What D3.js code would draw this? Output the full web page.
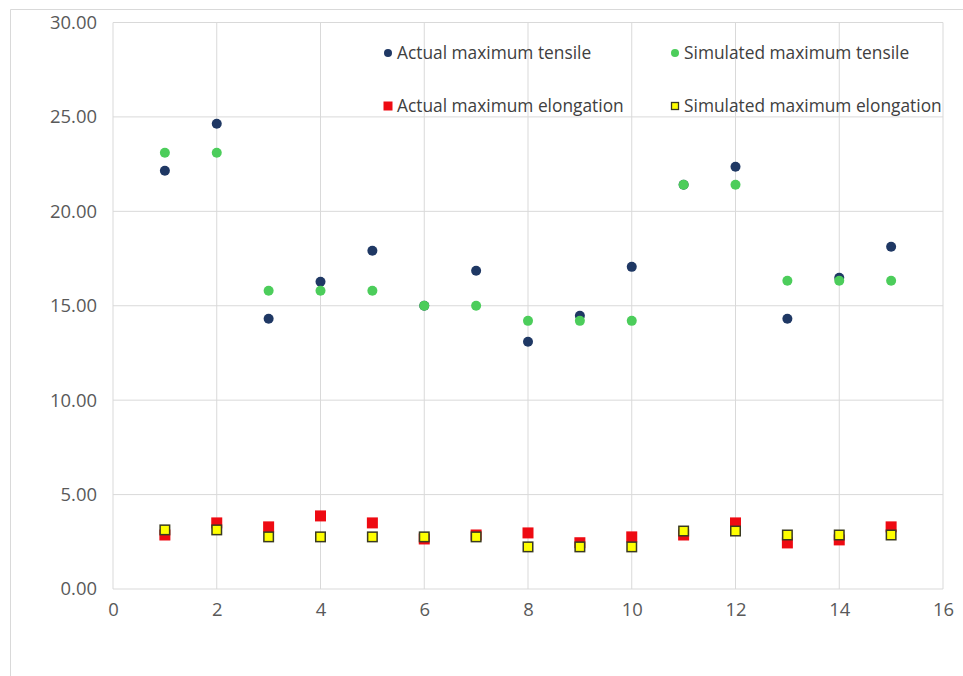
<!DOCTYPE html>
<html><head><meta charset="utf-8">
<script src="https://cdn.jsdelivr.net/npm/d3@7"></script>
<style>body{margin:0;background:#fff}svg{display:block}</style>
</head><body>
<svg id="c" width="963" height="676"></svg>
<script>
const samples = [1,2,3,4,5,6,7,8,9,10,11,12,13,14,15];
const actualTensile    = [22.15,24.64,14.31,16.27,17.91,15.0,16.85,13.09,14.47,17.06,21.41,22.36,14.31,16.48,18.12];
const simulatedTensile = [23.1,23.1,15.79,15.79,15.79,15.0,15.0,14.2,14.2,14.2,21.41,21.41,16.32,16.32,16.32];
const actualElong      = [2.86,3.5,3.29,3.87,3.5,2.65,2.86,2.97,2.45,2.76,2.86,3.5,2.44,2.6,3.29];
const simulatedElong   = [3.13,3.13,2.76,2.76,2.76,2.76,2.76,2.23,2.23,2.23,3.07,3.07,2.86,2.86,2.86];
const xTicks = [0,2,4,6,8,10,12,14,16];
const yTicks = [0,5,10,15,20,25,30];
const seriesNames = ["Actual maximum tensile","Simulated maximum tensile","Actual maximum elongation","Simulated maximum elongation"];

const svg = d3.select("#c");
const font = "'Open Sans', 'Noto Sans', sans-serif";
const L=113, R=943, T=22.5, B=589;
const x = d3.scaleLinear().domain([0,16]).range([L,R]);
const y = d3.scaleLinear().domain([0,30]).range([B,T]);

function fitSize(text, target){
  const t = svg.append("text").attr("font-family",font).attr("font-size",20).text(text);
  const w = t.node().getComputedTextLength(); t.remove();
  return 20*target/w;
}
const axisSize = fitSize("30.00", 47);
const legSize = fitSize("Simulated maximum elongation", 258);

// outer frame
svg.append("path").attr("d","M10.5,676 L10.5,9.5 L963,9.5").attr("fill","none").attr("stroke","#d9d9d9");

// gridlines
const grid = svg.append("g");
grid.selectAll(".gx").data(xTicks).join("line")
  .attr("x1",d=>x(d)).attr("x2",d=>x(d)).attr("y1",T).attr("y2",B)
  .attr("stroke","#d9d9d9").attr("stroke-width",1);
grid.selectAll(".gy").data(yTicks).join("line")
  .attr("x1",L).attr("x2",R).attr("y1",d=>y(d)).attr("y2",d=>y(d))
  .attr("stroke","#d9d9d9").attr("stroke-width",1);

// axes labels
const yAxis = d3.axisLeft(y).tickValues(yTicks).tickFormat(d3.format(".2f")).tickSize(0).tickPadding(16);
const gy = svg.append("g").attr("transform",`translate(${L},0)`).call(yAxis);
gy.select(".domain").remove();
gy.selectAll("text").attr("font-family",font).attr("font-size",axisSize).attr("fill","#595959");
const xAxis = d3.axisBottom(x).tickValues(xTicks).tickFormat(d3.format("d")).tickSize(0).tickPadding(14);
const gx = svg.append("g").attr("transform",`translate(0,${B})`).call(xAxis);
gx.select(".domain").remove();
gx.selectAll("text").attr("font-family",font).attr("font-size",axisSize).attr("fill","#595959");

const navy="#1f3864", green="#4ccd5b", red="#ee0a12", yellow="#ffff00";

// markers
const m = svg.append("g");
m.selectAll(".at").data(samples).join("circle")
  .attr("cx",(d)=>x(d)).attr("cy",(d,i)=>y(actualTensile[i])).attr("r",5).attr("fill",navy);
m.selectAll(".st").data(samples).join("circle")
  .attr("cx",(d)=>x(d)).attr("cy",(d,i)=>y(simulatedTensile[i])).attr("r",5).attr("fill",green);
const s=11;
m.selectAll(".ae").data(samples).join("rect")
  .attr("x",d=>x(d)-s/2).attr("y",(d,i)=>y(actualElong[i])-s/2).attr("width",s).attr("height",s).attr("fill",red);
const s2=9.5;
m.selectAll(".se").data(samples).join("rect")
  .attr("x",d=>x(d)-s2/2).attr("y",(d,i)=>y(simulatedElong[i])-s2/2).attr("width",s2).attr("height",s2)
  .attr("fill",yellow).attr("stroke","#3a3a20").attr("stroke-width",1.5);

// legend
const leg = svg.append("g");
const legPos = [[388,53],[675,53],[388,106],[675,106]];
seriesNames.forEach((name,i)=>{
  const [lx,ly]=legPos[i];
  if(i<2){
    leg.append("circle").attr("cx",lx).attr("cy",ly).attr("r",4).attr("fill",i===0?navy:green);
  } else if(i===2){
    leg.append("rect").attr("x",lx-4.5).attr("y",ly-4.5).attr("width",9).attr("height",9).attr("fill",red);
  } else {
    leg.append("rect").attr("x",lx-3.5).attr("y",ly-3.5).attr("width",7).attr("height",7).attr("fill",yellow).attr("stroke","#3a3a20").attr("stroke-width",1.3);
  }
  leg.append("text").attr("x",lx+9).attr("y",ly).attr("dy","0.35em")
    .attr("font-family",font).attr("font-size",legSize).attr("fill","#404040").text(name);
});
</script>
</body></html>
